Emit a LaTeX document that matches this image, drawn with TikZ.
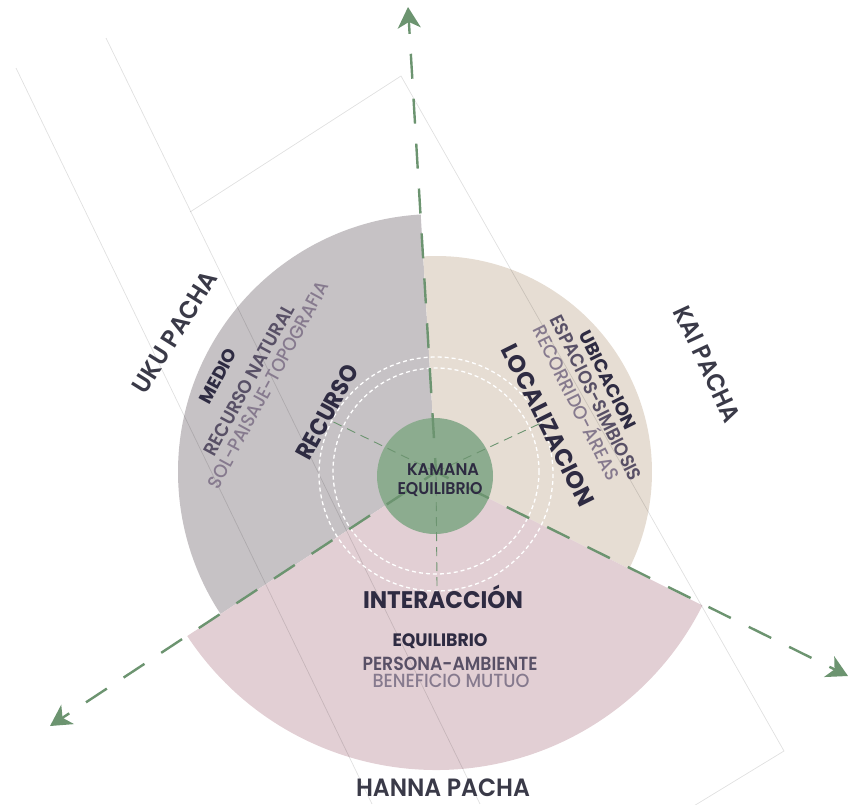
\documentclass[tikz,border=0pt]{standalone}
\usepackage{fontspec}
\setmainfont{Poppins}
\newfontfamily\pR{Poppins}
\IfFontExistsTF{Poppins SemiBold}{\newfontfamily\pS{Poppins SemiBold}}{\newfontfamily\pS{Poppins}}
\IfFontExistsTF{Poppins Medium}{\newfontfamily\pM{Poppins Medium}}{\newfontfamily\pM{Poppins}}
\newcommand\pB{\pR\bfseries}
\usetikzlibrary{arrows.meta,calc}
\definecolor{secgray}{RGB}{198,194,197}
\definecolor{secbeige}{RGB}{230,221,211}
\definecolor{secpink}{RGB}{226,207,212}
\definecolor{kgreen}{RGB}{140,172,143}
\definecolor{agreen}{RGB}{108,148,112}
\definecolor{tdark}{RGB}{46,43,66}
\definecolor{tpacha}{RGB}{58,58,72}
\definecolor{tmid}{RGB}{88,80,102}
\definecolor{tlight}{RGB}{134,122,142}
\newlength\fitlen
\newcommand\fitto[2]{\settowidth\fitlen{#2}\pgfmathsetmacro\fitsx{#1/\fitlen}\scalebox{\fitsx}[1]{#2}}
\tikzset{
  lbl/.style={inner sep=0pt, text depth=0pt},
  pacha/.style={lbl, text=tpacha, font=\pS\fontsize{25}{25}\selectfont, text height=17.5pt},
  title/.style={lbl, text=tdark, font=\pB\fontsize{24}{24}\selectfont, text height=17pt},
  head/.style={lbl, text=tdark, font=\pB\fontsize{18}{18}\selectfont, text height=12.6pt},
  sub/.style={lbl, text=tmid, font=\pS\fontsize{19}{19}\selectfont, text height=13.3pt},
  subl/.style={lbl, text=tlight, font=\pM\fontsize{19}{19}\selectfont, text height=13.3pt},
  core/.style={lbl, text=tdark, font=\pS\fontsize{17}{17}\selectfont, text height=12pt},
  plan/.style={draw=black, opacity=0.12, line width=0.7pt},
  ring/.style={draw=white, line width=1.3pt, dash pattern=on 4pt off 3pt},
  spoke/.style={draw=agreen, line width=0.9pt, dash pattern=on 9pt off 6pt},
  axis/.style={draw=agreen, line width=2.4pt, dash pattern=on 25pt off 20pt, dash phase=11pt,
    -{Stealth[length=21pt,width=23pt,inset=6pt]}},
}
\begin{document}
\begin{tikzpicture}[x=1pt,y=-1pt]
\useasboundingbox (0,0) rectangle (852,804);
\coordinate (C) at (436,472);
\coordinate (tipU) at (408,7);
\coordinate (tipR) at (848,676);
\coordinate (tipL) at (50,726);
% sectors
\fill[secgray] (C) -- ++(-93.4:258) arc[start angle=-93.4, end angle=-213.4, radius=258] -- cycle;
\fill[secbeige] (C) -- ++(-93.4:216) arc[start angle=-93.4, end angle=26.6, radius=216] -- cycle;
\fill[secpink] (C) -- ++(-213.4:298) arc[start angle=-213.4, end angle=-333.4, radius=298] -- cycle;
% background plan lines
\begin{scope}
\clip (0,0) rectangle (852,804);
\draw[plan] (16,68) -- (372,804);
\draw[plan] (106,38) -- (480,804);
\draw[plan] (190,212) -- (401,76) -- (784,751) -- (610,857);
\end{scope}
% rings
\draw[ring] (436,474) circle[radius=117];
\draw[ring] (436,471) circle[radius=103];
% core
\node[circle, fill=kgreen, minimum size=116pt, inner sep=0pt] (core) at (435,476) {};
% spokes
\draw[spoke] (C) -- ++(-154:114);
\draw[spoke] (C) -- ++(-25:114);
\draw[spoke] (C) -- ++(-270.5:114);
% axes
\draw[axis] (C) -- (tipU);
\draw[axis] (C) -- (tipR);
\draw[axis] (C) -- (tipL);
% texts
\node[core] (kamana) at (443,469) {\fitto{72}{KAMANA}};
\node[core] (equic) at (440,488) {\fitto{85}{EQUILIBRIO}};
\node[pacha] (hanna) at (443,788) {\fitto{174}{HANNA PACHA}};
\node[pacha, rotate=58] (uku) at (175,332) {\fitto{138}{UKU PACHA}};
\node[pacha, rotate=-65] (kai) at (707,364) {\fitto{125}{KAI PACHA}};
\node[title] (inter) at (443,600) {\fitto{160}{INTERACCIÓN}};
\node[title, rotate=61.5] (recurso) at (327,412) {\fitto{104}{RECURSO}};
\node[title, rotate=-63.5] (local) at (548,425) {\fitto{178}{LOCALIZACION}};
\node[head, rotate=61.5] (medio) at (218,376) {\fitto{60}{MEDIO}};
\node[sub, rotate=61.5] (recnat) at (249,380) {\fitto{169}{RECURSO NATURAL}};
\node[subl, rotate=61.5] (sol) at (268,385) {\fitto{232}{SOL-PAISAJE-TOPOGRAFIA}};
\node[head, rotate=-63.5] (ubic) at (608,380) {\fitto{107}{UBICACION}};
\node[sub, rotate=-63.5] (espac) at (596,398) {\fitto{182}{ESPACIOS-SIMBIOSIS}};
\node[subl, rotate=-63.5] (recor) at (576,403) {\fitto{170}{RECORRIDO-ÁREAS}};
\node[head] (equib) at (440,640) {\fitto{95}{EQUILIBRIO}};
\node[sub] (persona) at (450,664) {\fitto{175}{PERSONA-AMBIENTE}};
\node[subl] (benef) at (451,681) {\fitto{157}{BENEFICIO MUTUO}};
\end{tikzpicture}
\end{document}
